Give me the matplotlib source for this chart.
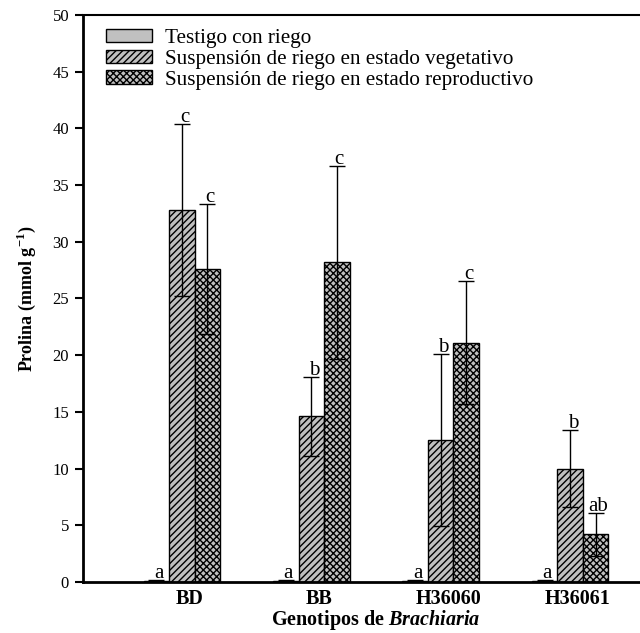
import numpy as np
import matplotlib
matplotlib.use('Agg')
import matplotlib.pyplot as plt

plt.rcParams['font.family'] = 'Liberation Serif'
plt.rcParams['mathtext.fontset'] = 'custom'
plt.rcParams['mathtext.rm'] = 'Liberation Serif'
plt.rcParams['mathtext.bf'] = 'Liberation Serif:bold'
plt.rcParams['mathtext.bfit'] = 'Liberation Serif:italic:bold'
plt.rcParams['hatch.linewidth'] = 1.0

genotypes = ['BD', 'BB', 'H36060', 'H36061']
series_names = ['Testigo con riego',
                'Suspensión de riego en estado vegetativo',
                'Suspensión de riego en estado reproductivo']

testigo = [0.1, 0.1, 0.1, 0.1]
vegetativo = [32.8, 14.6, 12.5, 10.0]
reproductivo = [27.6, 28.2, 21.1, 4.2]

testigo_err = [0.1, 0.1, 0.1, 0.1]
vegetativo_err = [7.6, 3.5, 7.6, 3.4]
reproductivo_err = [5.7, 8.5, 5.4, 1.9]

testigo_letters = ['a', 'a', 'a', 'a']
vegetativo_letters = ['c', 'b', 'b', 'b']
reproductivo_letters = ['c', 'c', 'c', 'ab']

values = [testigo, vegetativo, reproductivo]
errors = [testigo_err, vegetativo_err, reproductivo_err]
letters = [testigo_letters, vegetativo_letters, reproductivo_letters]
hatches = ['', '/////', 'xxxxx']

fig = plt.figure(figsize=(6.4, 6.33), dpi=100)
ax = fig.add_axes([0.1297, 0.0806, 0.8703, 0.8957])

x = np.arange(len(genotypes))
width = 0.197
for i in range(3):
    pos = x + (i - 1) * width
    ax.bar(pos, values[i], width, color='#c0c0c0', edgecolor='black',
           linewidth=1.0, hatch=hatches[i], label=series_names[i])
    ax.errorbar(pos, values[i], yerr=errors[i], fmt='none', ecolor='black',
                elinewidth=1.0, capsize=5.5, capthick=1.0)
    for p, v, e, t in zip(pos, values[i], errors[i], letters[i]):
        ax.text(p + 0.02, v + e - 0.25, t, ha='center', va='bottom', fontsize=15)

ax.set_xlim(-0.764, 3.54)
ax.set_ylim(0, 50)
ax.set_yticks(np.arange(0, 51, 5))
ax.set_xticks(x + 0.06)
ax.set_xticklabels(genotypes, fontsize=14.5, fontweight='bold')
ax.tick_params(axis='x', length=0, pad=5)
ax.tick_params(axis='y', direction='out', length=6, width=1.5, labelsize=12, pad=4)

for s in ['left', 'bottom']:
    ax.spines[s].set_linewidth(2)
ax.spines['top'].set_linewidth(1.5)
ax.spines['right'].set_visible(False)

ax.set_ylabel(r'Prolina (mmol g$^{\mathbf{-1}}$)', fontsize=13, fontweight='bold', labelpad=10)
ax.set_xlabel(r'Genotipos de $\mathbfit{Brachiaria}$', fontsize=14.5, fontweight='bold')
ax.xaxis.set_label_coords(0.526, -0.0465)

ax.legend(loc='upper left', bbox_to_anchor=(0.016, 1.0), frameon=False, fontsize=15.2,
          handlelength=2.2, handleheight=0.6, labelspacing=0.08, handletextpad=0.6,
          borderaxespad=0.25)

plt.savefig('out.png', dpi=100)
